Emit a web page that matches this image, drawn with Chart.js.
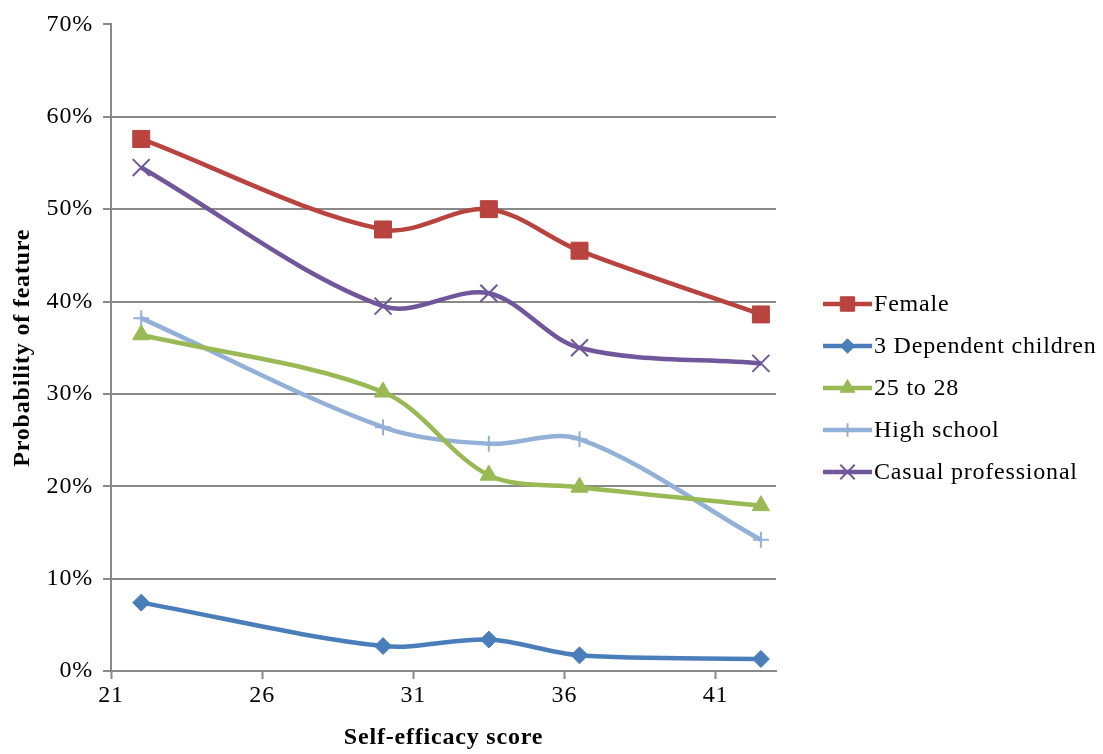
<!DOCTYPE html>
<html>
<head>
<meta charset="utf-8">
<title>Self-efficacy score and probability of feature</title>
<script src="https://cdn.jsdelivr.net/npm/chart.js@4.4.1/dist/chart.umd.min.js"></script>
<style>
  html, body { margin: 0; padding: 0; background: #ffffff; }
  #wrap { width: 1103px; height: 754px; }
</style>
</head>
<body>
<div id="wrap"><canvas id="chart" width="1103" height="754"></canvas></div>
<script>
// Self-efficacy scores at which each feature probability was estimated
const scores = [22, 30, 33.5, 36.5, 42.5];

// Probability of each feature (%)
const female = [57.6, 47.8, 50.0, 45.5, 38.6];
const dependentChildren3 = [7.4, 2.7, 3.4, 1.7, 1.3];
const age25to28 = [36.4, 30.2, 21.2, 19.9, 17.9];
const highSchool = [38.2, 26.4, 24.6, 25.1, 14.2];
const casualProfessional = [54.5, 39.5, 40.9, 35.0, 33.3];

const seriesNames = ['Female', '3 Dependent children', '25 to 28', 'High school', 'Casual professional'];

// Axis ticks
const xTickValues = [21, 26, 31, 36, 41];
const yTickValues = [0, 10, 20, 30, 40, 50, 60, 70];

const SERIF = '"Liberation Serif", "Times New Roman", serif';
const GRID = '#898989';
const TEXT_SPACING = '0.8px';

function toPoints(values) {
  return scores.map((x, i) => ({ x: x, y: values[i] }));
}

function series(label, values, color, style, radius, borderWidth) {
  return {
    label: label,
    data: toPoints(values),
    borderColor: color,
    backgroundColor: color,
    borderWidth: 4.5,
    tension: 0.33,
    pointStyle: style,
    pointRadius: radius,
    pointHoverRadius: radius,
    pointBackgroundColor: color,
    pointBorderColor: color,
    pointBorderWidth: borderWidth,
    fill: false
  };
}

const datasets = [
  series(seriesNames[0], female, '#B8433F', 'rect', 12, 1),
  series(seriesNames[1], dependentChildren3, '#4A7EBB', 'rectRot', 8.5, 1),
  series(seriesNames[2], age25to28, '#98B954', 'triangle', 10, 1),
  series(seriesNames[3], highSchool, '#93B0D8', 'cross', 8, 2),
  series(seriesNames[4], casualProfessional, '#70569B', 'crossRot', 12, 2)
];

// Slightly wider letter spacing for every label drawn on the canvas
const textSpacing = {
  id: 'textSpacing',
  beforeUpdate(chart) { chart.ctx.letterSpacing = TEXT_SPACING; },
  beforeDraw(chart) { chart.ctx.letterSpacing = TEXT_SPACING; }
};

// Legend on the right: line sample with the series marker in the middle
const sideLegend = {
  id: 'sideLegend',
  afterDraw(chart) {
    const ctx = chart.ctx;
    const x0 = 823, x1 = 872, textX = 874;
    const firstY = 304, rowGap = 42;
    ctx.save();
    ctx.letterSpacing = TEXT_SPACING;
    chart.data.datasets.forEach((ds, i) => {
      const y = firstY + i * rowGap;
      ctx.strokeStyle = ds.borderColor;
      ctx.lineWidth = ds.borderWidth;
      ctx.lineCap = 'butt';
      ctx.beginPath();
      ctx.moveTo(x0, y);
      ctx.lineTo(x1, y);
      ctx.stroke();
      ctx.fillStyle = ds.pointBackgroundColor;
      ctx.strokeStyle = ds.pointBorderColor;
      ctx.lineWidth = ds.pointBorderWidth;
      Chart.helpers.drawPoint(ctx, {
        pointStyle: ds.pointStyle,
        radius: ds.pointRadius * 0.85,
        rotation: 0,
        borderWidth: ds.pointBorderWidth
      }, (x0 + x1) / 2, y);
      ctx.fillStyle = '#000000';
      ctx.font = '24px ' + SERIF;
      ctx.textAlign = 'left';
      ctx.textBaseline = 'middle';
      ctx.fillText(ds.label, textX, y + 1);
    });
    ctx.restore();
  }
};

new Chart(document.getElementById('chart'), {
  type: 'line',
  data: { datasets: datasets },
  options: {
    responsive: false,
    animation: false,
    devicePixelRatio: 1,
    layout: { padding: { left: 6, right: 327, top: 22, bottom: 0 } },
    plugins: {
      legend: { display: false },
      tooltip: { enabled: false }
    },
    scales: {
      x: {
        type: 'linear',
        min: 21,
        max: 43,
        afterBuildTicks(scale) {
          scale.ticks = xTickValues.map(v => ({ value: v }));
        },
        afterFit(scale) { scale.height = 754 - 671; },
        grid: {
          drawOnChartArea: false,
          drawTicks: true,
          tickLength: 8,
          tickColor: GRID,
          tickWidth: 2
        },
        border: { display: true, color: GRID, width: 2 },
        ticks: {
          padding: 2,
          color: '#000000',
          font: { family: SERIF, size: 24 },
          maxRotation: 0,
          autoSkip: false
        },
        title: {
          display: true,
          text: 'Self-efficacy score',
          color: '#000000',
          font: { family: SERIF, size: 24, weight: 'bold' },
          padding: { top: 0, bottom: 2 }
        }
      },
      y: {
        type: 'linear',
        min: 0,
        max: 70,
        afterBuildTicks(scale) {
          scale.ticks = yTickValues.map(v => ({ value: v }));
        },
        afterFit(scale) { scale.width = 111 - 6; },
        grid: {
          color: ctx => (ctx.tick && ctx.tick.value === 70 ? 'rgba(0,0,0,0)' : GRID),
          lineWidth: 2,
          drawTicks: true,
          tickLength: 8,
          tickColor: GRID,
          tickWidth: 2
        },
        border: { display: true, color: GRID, width: 2 },
        ticks: {
          padding: 10,
          color: '#000000',
          font: { family: SERIF, size: 24 },
          callback: v => v + '%'
        },
        title: {
          display: true,
          text: 'Probability of feature',
          color: '#000000',
          font: { family: SERIF, size: 24, weight: 'bold' },
          padding: { top: 2, bottom: 0 }
        }
      }
    }
  },
  plugins: [textSpacing, sideLegend]
});
</script>
</body>
</html>
